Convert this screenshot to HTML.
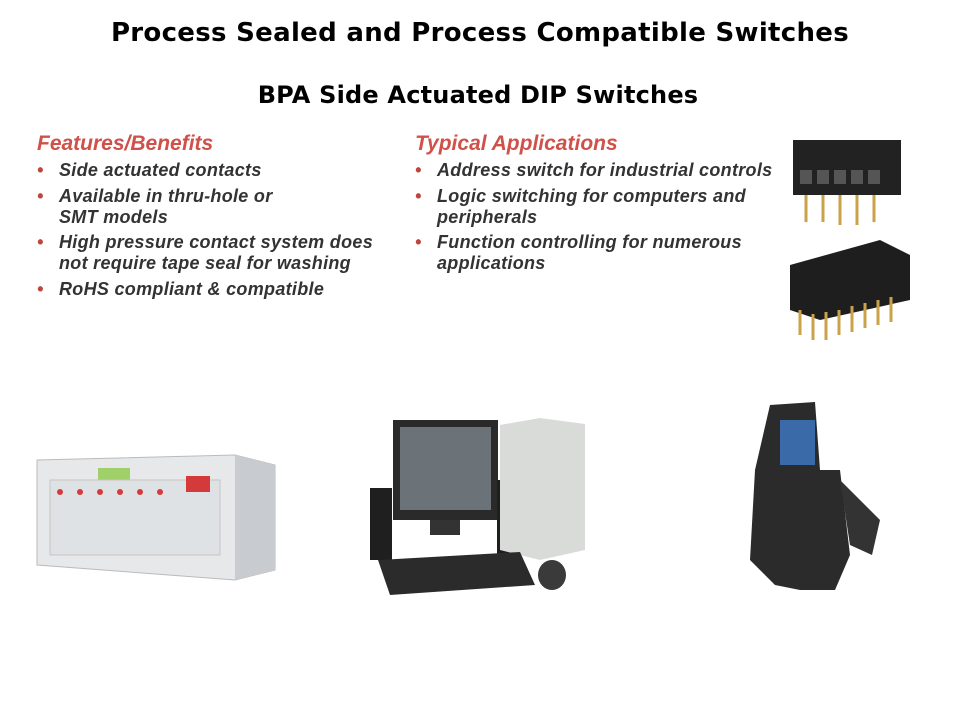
<!DOCTYPE html>
<html><head><meta charset="utf-8"><style>
body{margin:0;width:960px;height:720px;background:#fff;position:relative;overflow:hidden;font-family:"Liberation Sans",sans-serif}
.a{position:absolute}
h1{position:absolute;margin:0;left:0;width:960px;text-align:center;font-family:"DejaVu Sans",sans-serif;font-size:26px;letter-spacing:0.3px;font-weight:bold;top:18px;white-space:nowrap}
h2{position:absolute;margin:0;left:0;width:956px;text-align:center;font-family:"DejaVu Sans",sans-serif;font-size:24px;letter-spacing:0.2px;font-weight:bold;top:81px;white-space:nowrap}
.hd{color:#d0504a;font-style:italic;font-size:21px;font-weight:bold;}
.li{color:#333;font-style:italic;font-weight:bold;font-size:18px;letter-spacing:0.3px;line-height:21px;position:absolute;white-space:nowrap}
.li:before{content:"•";color:#c0443c;position:absolute;left:-22px}
</style></head><body>
<h1>Process Sealed and Process Compatible Switches</h1>
<h2>BPA Side Actuated DIP Switches</h2>
<div class="a hd" style="left:37px;top:132px">Features/Benefits</div>
<div class="li" style="left:59px;top:160px">Side actuated contacts</div>
<div class="li" style="left:59px;top:186px">Available in thru-hole or<br>SMT models</div>
<div class="li" style="left:59px;top:232px">High pressure contact system does<br>not require tape seal for washing</div>
<div class="li" style="left:59px;top:279px">RoHS compliant &amp; compatible</div>
<div class="a hd" style="left:415px;top:132px">Typical Applications</div>
<div class="li" style="left:437px;top:160px">Address switch for industrial controls</div>
<div class="li" style="left:437px;top:186px">Logic switching for computers and<br>peripherals</div>
<div class="li" style="left:437px;top:232px">Function controlling for numerous<br>applications</div>
<svg class="a" style="left:0;top:0" width="960" height="720">
<rect x="793" y="140" width="108" height="55" fill="#222"/>
<g fill="#555"><rect x="800" y="170" width="12" height="14"/><rect x="817" y="170" width="12" height="14"/><rect x="834" y="170" width="12" height="14"/><rect x="851" y="170" width="12" height="14"/><rect x="868" y="170" width="12" height="14"/></g>
<g stroke="#c9a24a" stroke-width="3"><line x1="806" y1="195" x2="806" y2="222"/><line x1="823" y1="195" x2="823" y2="222"/><line x1="840" y1="195" x2="840" y2="225"/><line x1="857" y1="195" x2="857" y2="225"/><line x1="874" y1="195" x2="874" y2="222"/></g>
<polygon points="790,265 880,240 910,255 910,300 820,320 790,310" fill="#1e1e1e"/>
<g stroke="#c9a24a" stroke-width="3"><line x1="800" y1="310" x2="800" y2="335"/><line x1="813" y1="314" x2="813" y2="340"/><line x1="826" y1="312" x2="826" y2="340"/><line x1="839" y1="310" x2="839" y2="335"/><line x1="852" y1="306" x2="852" y2="332"/><line x1="865" y1="303" x2="865" y2="328"/><line x1="878" y1="300" x2="878" y2="325"/><line x1="891" y1="297" x2="891" y2="322"/></g>
<polygon points="37,460 235,455 275,465 275,570 235,580 37,565" fill="#e6e8ea" stroke="#bbb"/>
<polygon points="235,455 275,465 275,570 235,580" fill="#c8ccd0"/>
<rect x="98" y="468" width="32" height="12" fill="#9fd06a"/>
<rect x="50" y="480" width="170" height="75" fill="#dfe2e4" stroke="#c5c5c5"/>
<g fill="#d43a3a"><circle cx="60" cy="492" r="3"/><circle cx="80" cy="492" r="3"/><circle cx="100" cy="492" r="3"/><circle cx="120" cy="492" r="3"/><circle cx="140" cy="492" r="3"/><circle cx="160" cy="492" r="3"/></g>
<rect x="186" y="476" width="24" height="16" fill="#d43a3a"/>
<rect x="393" y="420" width="105" height="100" fill="#2a2a2a"/>
<rect x="400" y="427" width="91" height="83" fill="#6b7278"/>
<rect x="430" y="520" width="30" height="15" fill="#333"/>
<rect x="370" y="488" width="22" height="72" fill="#1f1f1f"/>
<rect x="497" y="480" width="24" height="80" fill="#1f1f1f"/>
<polygon points="500,425 540,418 585,424 585,550 540,560 500,550" fill="#d9dbd9"/>
<polygon points="378,560 520,552 535,585 390,595" fill="#2b2b2b"/>
<ellipse cx="552" cy="575" rx="14" ry="15" fill="#3a3a3a"/>
<polygon points="770,405 815,402 820,470 840,470 850,555 835,590 800,590 775,585 750,560 755,470" fill="#2b2b2b"/>
<rect x="780" y="420" width="35" height="45" fill="#3a6aa8"/>
<polygon points="840,480 880,520 872,555 850,545" fill="#333"/>
</svg>
</body></html>
